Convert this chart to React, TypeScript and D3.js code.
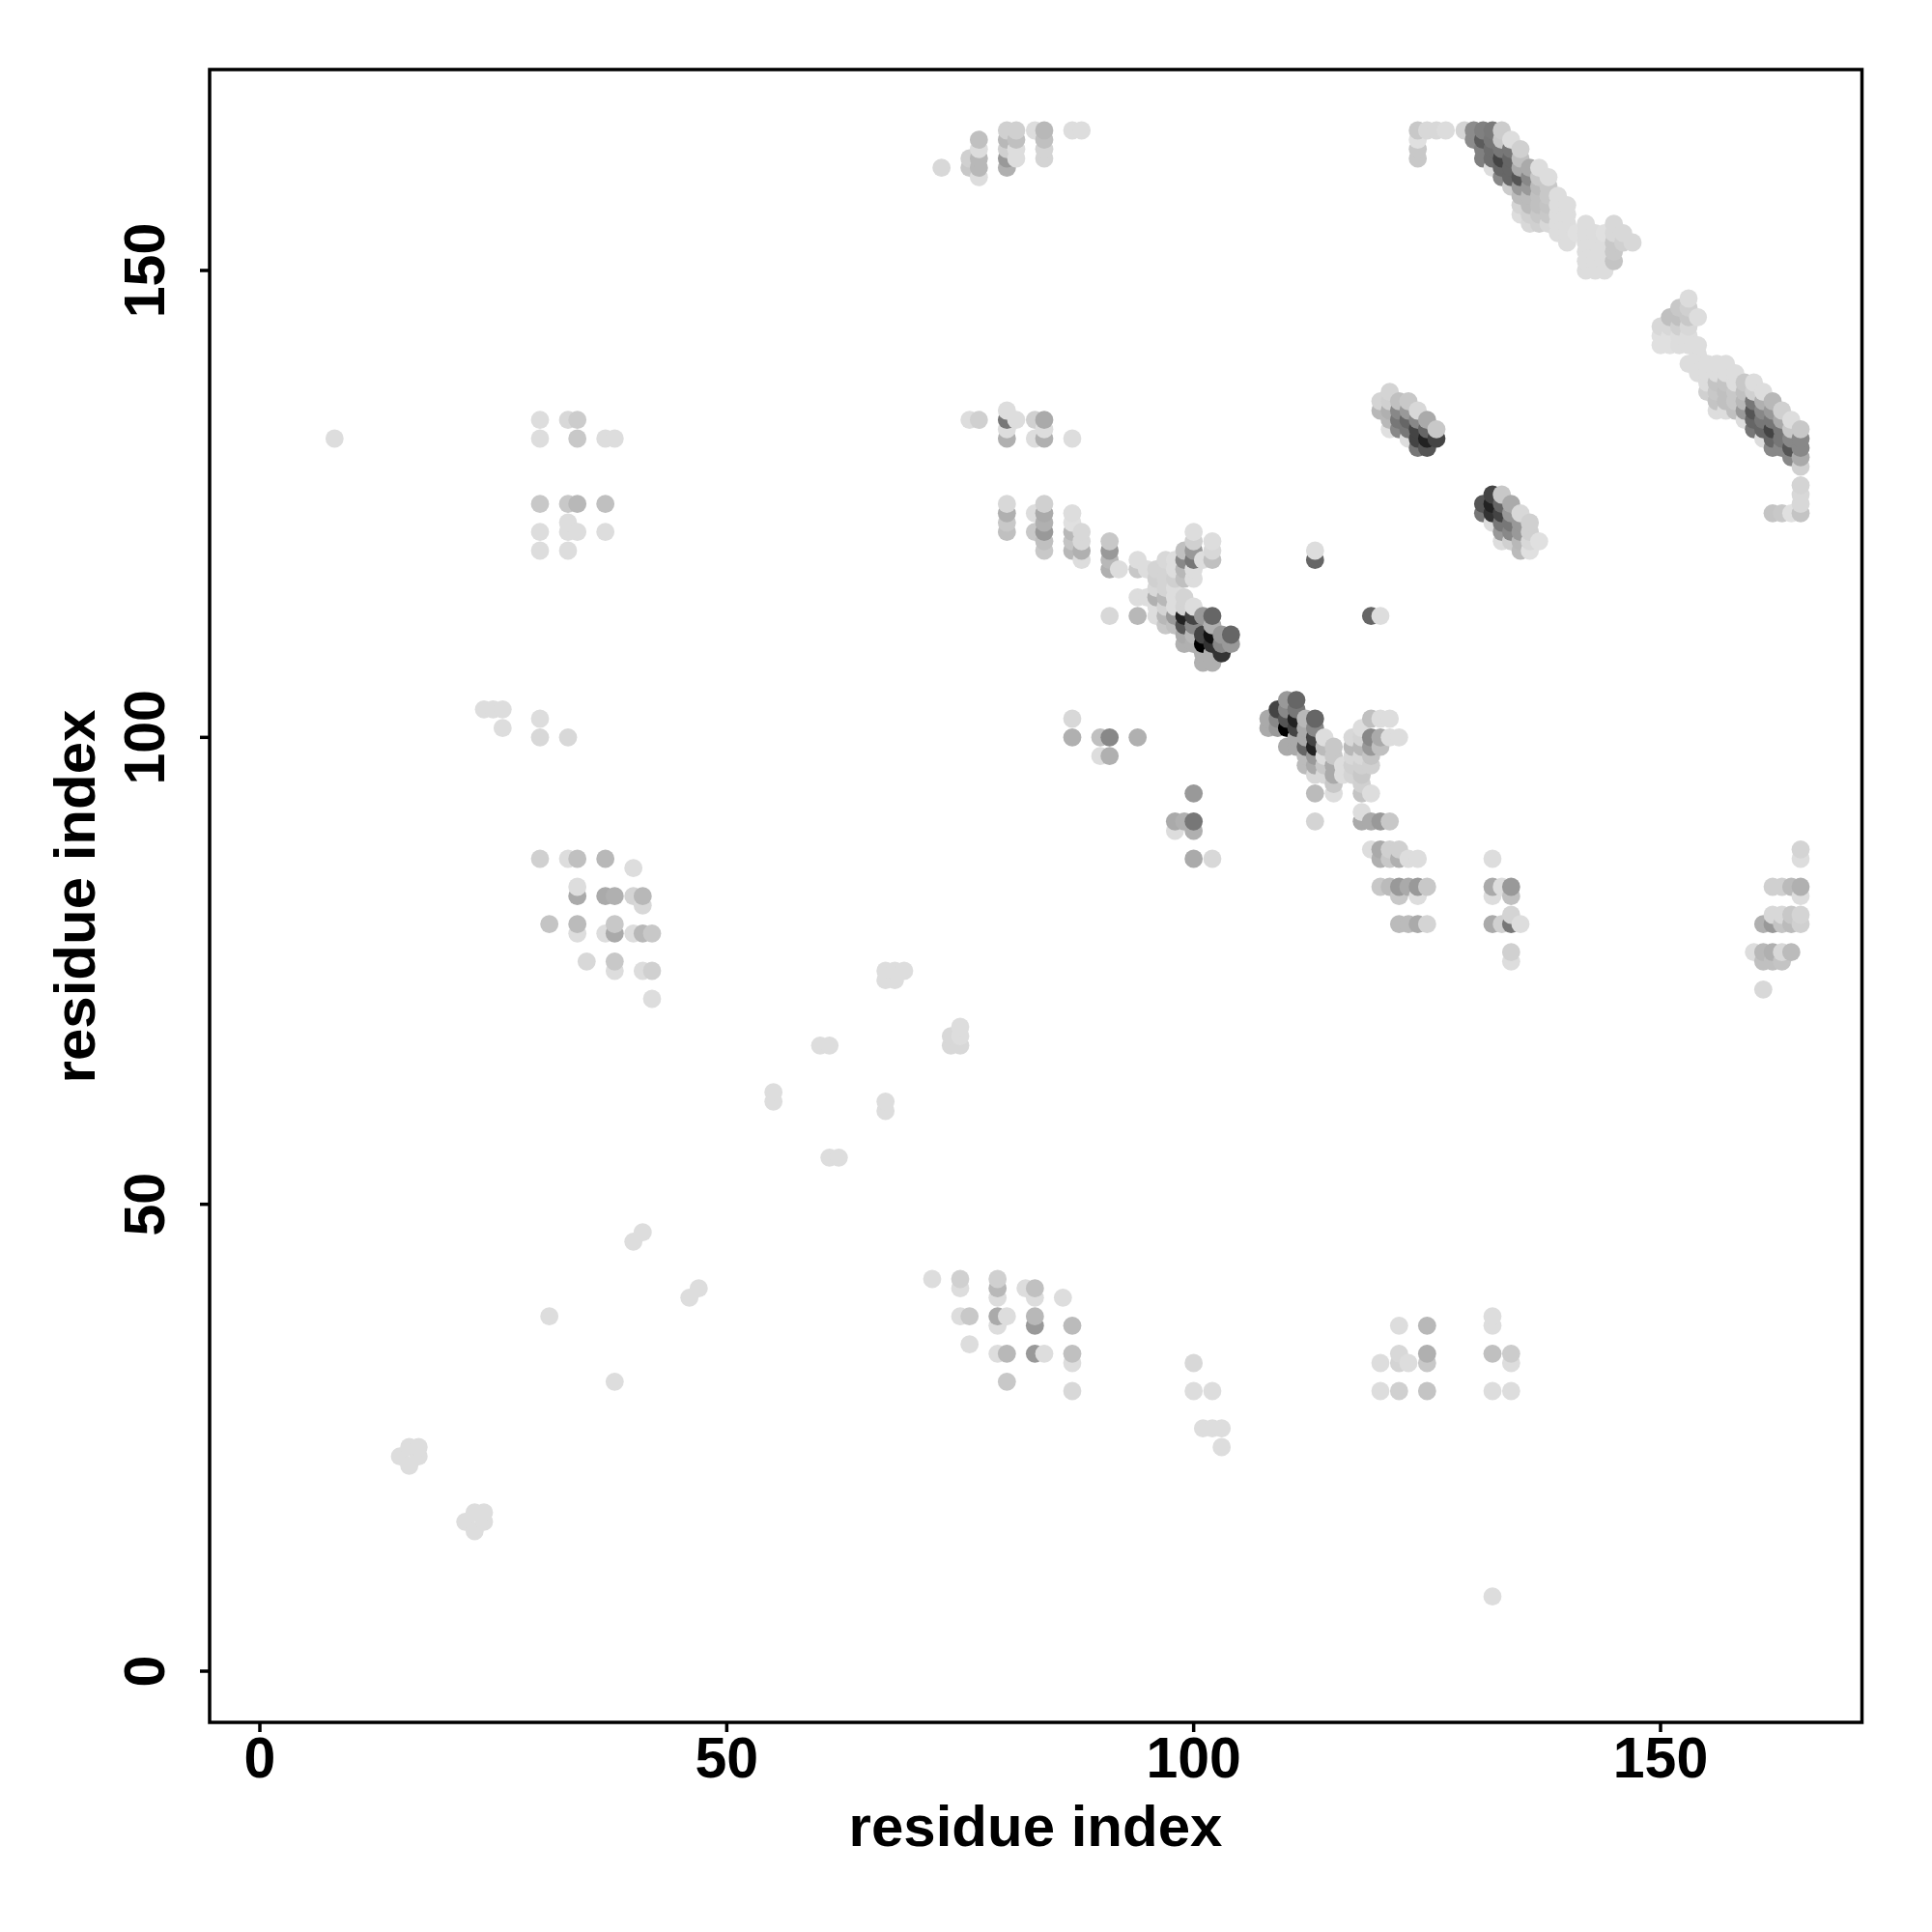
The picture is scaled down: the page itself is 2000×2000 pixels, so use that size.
import React from "react";
import * as d3 from "d3";

type Col = [number, number[]]; // residue x, then pairs: residue y, grey level
const xTicks = [0, 50, 100, 150];
const yTicks = [0, 50, 100, 150];
const axisTitle = "residue index";

const bandTop: Col[] = [
  [124,[165,0xc8,164,0xe0,163,0xc8,162,0xc8]],[125,[165,0xd8]],[126,[165,0xd8]],[127,[165,0xdc]],[129,[165,0xd4]],
  [130,[165,0x8c,164,0x8c]],[131,[165,0x80,164,0x5c,163,0x80,162,0x80]],[132,[165,0x7a,164,0x77,163,0x6e,162,0x6e,161,0xdd]],
  [133,[165,0xcc,164,0xc8,163,0x77,162,0x44,161,0x66,160,0x88]],[134,[164,0xdd,163,0x77,162,0x66,161,0x66,160,0x66,159,0xcc]],
  [135,[163,0xd0,162,0xc0,161,0xaa,160,0x55,159,0x99,158,0xbb,157,0xd4,156,0xdd]],
  [136,[161,0xaa,160,0x88,159,0x99,158,0xbb,157,0xbb,156,0xd0,155,0xd8]],
  [137,[161,0xdd,160,0xc8,159,0xbb,158,0xc0,157,0xc0,156,0xc8,155,0xd0]],
  [138,[160,0xdd,159,0xc8,158,0xc8,157,0xc4,156,0xc8,155,0xd8]],
  [139,[158,0xdd,157,0xdd,156,0xdd,155,0xdd,154,0xdd]],[140,[157,0xdd,156,0xdd,155,0xdd,154,0xdd,153,0xdd]],[141,[154,0xe0]],
  [142,[155,0xdd,154,0xdd,153,0xdd,152,0xdd,151,0xdd,150,0xdd]],[143,[154,0xdd,153,0xdd,152,0xdd,151,0xdd,150,0xdd]],
  [144,[154,0xe0,153,0xdd,152,0xdd,151,0xdd,150,0xdd]],[145,[155,0xd8,154,0xd8,153,0xc8,152,0xc8,151,0xc4]],
  [146,[154,0xd8,153,0xd0]],[147,[153,0xd8]],
];
const bandRight: Col[] = [
  [150,[144,0xd8,143,0xe0,142,0xe0]],[151,[145,0xc0,144,0xd8,143,0xe0,142,0xe0]],[152,[146,0xc8,145,0xc0,144,0xd0,143,0xdd,142,0xdd]],
  [153,[147,0xdc,146,0xd0,145,0xc8,144,0xd8,143,0xdd,142,0xdd,140,0xdd]],[154,[145,0xdd,142,0xdd,141,0xdd,140,0xdd,139,0xdd]],
  [155,[140,0xdd,139,0xdd,138,0xdd,137,0xd0]],[156,[140,0xdd,139,0xdd,138,0xc4,137,0xc8,136,0xc4,135,0xdd]],
  [157,[140,0xdd,139,0xdd,138,0xc4,137,0xc0,136,0xc0,135,0xdd]],[158,[139,0xdd,138,0xdd,137,0xc8,136,0xc8,135,0xc0]],
  [159,[138,0xc8,137,0xc0,136,0xb8,135,0x99,134,0xdd]],[160,[138,0xdd,137,0xd0,136,0x77,135,0x55,134,0x66,133,0x77]],
  [161,[137,0xdd,136,0xb0,135,0x88,134,0x77,133,0x66,132,0xdd]],[162,[136,0xb8,135,0x99,134,0x77,133,0x44,132,0x66,131,0x88,124,0xc4]],
  [163,[135,0xd0,134,0xaa,133,0x77,132,0x77,131,0x88,124,0xc8]],[164,[134,0xdd,133,0xc8,132,0x88,131,0x55,130,0x88,124,0xe0]],
  [165,[133,0xc8,132,0x88,131,0x88,130,0xaa,129,0xd0,127,0xd4,126,0xd8,125,0xd8,124,0xc4]],
];
const clusterUpper: Col[] = [
  [120,[136,0xd4,135,0xb8]],[121,[137,0xd4,136,0xd0,135,0xb0,134,0xb8,133,0xe0]],[122,[136,0xc0,135,0x88,134,0x77,133,0x88]],
  [123,[136,0xc8,135,0x99,134,0x66,133,0x77,132,0xdd]],[124,[135,0xd8,134,0x88,133,0x44,132,0x44,131,0x77]],
  [125,[134,0xaa,133,0x66,132,0x22,131,0x55]],[126,[133,0xc8,132,0x44]],
  [131,[125,0x55,124,0x77]],[132,[126,0x44,125,0x22,124,0x33,123,0xdd]],[133,[126,0xc8,125,0x66,124,0x44,123,0x77,122,0x99,121,0xdd]],
  [134,[125,0xaa,124,0x99,123,0x77,122,0x88,121,0xd0]],[135,[124,0xd8,123,0x99,122,0x99,121,0xb8,120,0xbb]],
  [136,[123,0xd0,122,0xd0,121,0xd8,120,0xe0]],[137,[121,0xe0]],
];
const bandMid: Col[] = [
  [76,[134,0xdd]],[77,[134,0xd0]],[80,[135,0xdd,134,0x77,133,0xdd,132,0xb0,125,0xd8,124,0xb0,123,0xc8,122,0xc0]],[81,[134,0xdd]],
  [83,[134,0xd0,132,0xdd,124,0xdd,122,0xc8]],[84,[134,0xaa,133,0xdd,132,0xb0,125,0xd0,124,0xaa,123,0xb0,122,0x99,121,0xc0,120,0xc8]],
  [87,[132,0xdd,124,0xdd,123,0xe0,122,0xb8,121,0xc4,120,0xb8]],[88,[122,0xd8,121,0xd8,120,0xb0,119,0xdd]],
  [91,[121,0xc8,120,0x99,119,0xb8,118,0xb0,113,0xd8]],[92,[118,0xdd]],[94,[119,0xdd,118,0xc8,115,0xdd,113,0xb8]],[95,[118,0xdd,115,0xdd]],
  [96,[118,0xd4,117,0xd0,116,0xd8,115,0xb0,114,0xdd,113,0xdd]],[97,[119,0xd8,118,0xd4,117,0xd4,116,0xd4,115,0xb8,114,0xd4,113,0xb8,112,0xc8]],
  [98,[119,0xdd,118,0xdd,117,0xd0,116,0xdd,115,0xdd,114,0xdd,113,0x99,112,0xc0]],
  [99,[120,0xc0,119,0x88,118,0xb8,117,0xc0,115,0xd4,114,0xd4,113,0x22,112,0x55,111,0xaa,110,0xb0]],
  [100,[122,0xdd,121,0xd0,120,0x99,119,0x77,118,0xdd,117,0xdd,114,0xdd,113,0x44,112,0x88,111,0xb8,110,0xb0]],
  [101,[119,0xdd,113,0x99,111,0x44,110,0x00,109,0xb0,108,0xb0]],[102,[121,0xdd,120,0xd8,119,0xc0,113,0x66,112,0xb0,111,0x11,110,0x33,109,0xb0,108,0xb0]],
  [103,[111,0x99,110,0x88,109,0x33]],[104,[111,0x66,110,0x99]],
];
const bandLow: Col[] = [
  [108,[102,0xaa,101,0xaa]],[109,[103,0x44,102,0x88,101,0x99]],[110,[104,0x99,103,0x88,102,0x55,101,0x00,99,0xaa]],
  [111,[104,0x66,103,0x77,102,0x22,101,0x44,100,0xaa,99,0xaa]],[112,[102,0xb8,101,0xaa,100,0xaa,99,0x66,98,0xbb,97,0xbb]],
  [113,[120,0xdd,119,0x66,102,0x66,101,0x88,100,0x44,99,0x22,98,0x99,97,0xaa,96,0xd8,94,0xbb,91,0xd4]],
  [114,[100,0xdd,99,0xbb,98,0xdd,97,0xc8,96,0xd8]],[115,[99,0xc8,98,0xc8,97,0xaa,96,0xaa,95,0xc8,94,0xdd]],[116,[97,0xdd,96,0xdd]],
  [117,[100,0xd8,99,0xb8,98,0xd8,97,0xd0,96,0xd4]],[118,[101,0xdd,100,0xd4,99,0xb8,98,0xd8,97,0xd0,96,0xc8,95,0xd0,94,0xc4,92,0xdd,91,0xaa]],
  [119,[113,0x66,102,0xc0,100,0x88,99,0x99,98,0xc4,97,0xd0,94,0xdd,91,0xaa,88,0xdd]],[120,[113,0xdd,102,0xdd,100,0xaa,99,0xc0,91,0x99,88,0xaa,87,0xb0,84,0xc8]],
  [121,[102,0xdd,100,0xdd,91,0xc8,88,0xd0,87,0xc8,84,0xbb]],[122,[100,0xdd,88,0xd0,87,0xb0,84,0x99,83,0xc8,80,0xbb]],
  [123,[87,0xdd,84,0xaa,80,0xbb]],[124,[87,0xdd,84,0x99,83,0xdd,80,0xaa]],[125,[84,0xc8,80,0xd4]],
  [132,[87,0xdd,84,0xaa,83,0xdd,80,0xaa]],[133,[84,0xdd,80,0xd0]],[134,[84,0x99,83,0xc0,81,0xd4,80,0x77,77,0xd0,76,0xdd]],[135,[80,0xdd]],
  [160,[77,0xdd]],[161,[80,0xb0,77,0xb8,76,0xc0,73,0xd8]],[162,[84,0xd0,81,0xd8,80,0x99,77,0xb0,76,0xc0]],[163,[84,0xd0,81,0xd8,80,0xc4,77,0xd8,76,0xc4]],
  [164,[84,0xbb,81,0xc8,80,0xbb,77,0xbb]],[165,[88,0xd4,87,0xdd,84,0xb0,83,0xdd,81,0xd4,80,0xd0]],
];
const clusterMidRight: Col[] = [
  [87,[102,0xd8,100,0xb0]],[90,[100,0xc0,98,0xdd]],[91,[100,0x88,98,0xb0]],[94,[100,0xb0]],
  [98,[91,0xaa,90,0xdd]],[99,[91,0xb0]],[100,[94,0x99,91,0x77,90,0xb0,87,0xaa]],[102,[87,0xd8]],
];
const topMid: Col[] = [
  [73,[161,0xd8]],[76,[162,0xd0,161,0xc8]],[77,[164,0xc0,163,0xdd,162,0xb8,161,0xb8,160,0xdd]],
  [80,[165,0xd0,164,0xb8,163,0xd0,162,0x99,161,0xb0]],[81,[165,0xd0,164,0xc0,163,0xdd,162,0xdd]],
  [83,[165,0xdd]],[84,[165,0xb8,164,0xc0,163,0xd4,162,0xd4]],[87,[165,0xdd]],[88,[165,0xdd]],
];
const leftUpper: Col[] = [
  [8,[132,0xdd]],[24,[103,0xdd]],[25,[103,0xdd]],[26,[103,0xdd,101,0xdd]],
  [30,[134,0xdd,132,0xdd,125,0xc8,122,0xdd,120,0xdd,102,0xdd,100,0xd8]],
  [33,[134,0xd8,125,0xc8,123,0xdd,122,0xdd,120,0xdd,100,0xd8]],[34,[134,0xcc,132,0xc8,125,0xb8,122,0xdd]],
  [37,[132,0xdd,125,0xc0,122,0xdd]],[38,[132,0xdd]],
];
const leftMiddle: Col[] = [
  [30,[87,0xd0]],[31,[80,0xc4,38,0xdd]],[33,[87,0xdd]],[34,[87,0xc0,84,0xdd,83,0xaa,80,0xbb,79,0xdd]],[35,[76,0xd8]],
  [37,[87,0xb8,83,0xaa,79,0xdd]],[38,[83,0xb0,80,0xc8,79,0xaa,76,0xc8,75,0xdd,31,0xdd]],[40,[86,0xdd,83,0xd4,79,0xdd,46,0xdd]],
  [41,[83,0xb8,82,0xd8,79,0xb8,75,0xdd,47,0xdd]],[42,[79,0xc8,75,0xd0,72,0xdd]],
];
const diagonal: Col[] = [
  [15,[23,0xdd]],[16,[24,0xdd,22,0xdd]],[17,[24,0xdd,23,0xdd]],[22,[16,0xdd]],[23,[17,0xdd,15,0xdd]],[24,[17,0xdd,16,0xdd]],
  [46,[40,0xdd]],[47,[41,0xdd]],[55,[62,0xdd,61,0xdd]],[60,[67,0xdd]],[61,[67,0xdd,55,0xdd]],[62,[55,0xdd]],
  [67,[75,0xdd,74,0xdd,61,0xdd,60,0xdd]],[68,[75,0xdd,74,0xdd]],[69,[75,0xdd]],[74,[68,0xd8,67,0xd8]],[75,[69,0xdd,68,0xdd,67,0xd8]],
];
const lower: Col[] = [
  [72,[42,0xdd]],[75,[42,0xd0,41,0xdd,38,0xdd]],[76,[38,0xc8,35,0xdd]],[79,[42,0xd0,41,0xb8,40,0xdd,38,0xaa,37,0xdd,34,0xdd]],
  [80,[38,0xdd,34,0xb8,31,0xc8]],[82,[41,0xdd]],[83,[41,0xc0,40,0xdd,38,0xb8,37,0x99,34,0x99]],[84,[34,0xdd]],[86,[40,0xdd]],
  [87,[37,0xbb,34,0xc0,33,0xdd,30,0xd8]],[100,[33,0xd8,30,0xdd]],[101,[26,0xdd]],[102,[30,0xdd,26,0xdd]],[103,[26,0xdd,24,0xdd]],
  [120,[33,0xdd,30,0xdd]],[122,[37,0xdd,34,0xd8,33,0xd4,30,0xd0]],[123,[33,0xdd]],[125,[37,0xb8,34,0xb0,33,0xc8,30,0xc4]],
  [132,[38,0xdd,37,0xdd,34,0xc0,30,0xdd,8,0xdd]],[134,[34,0xcc,33,0xdd,30,0xdd]],
];

const allColumns = [bandTop, bandRight, clusterUpper, bandMid, bandLow, clusterMidRight, topMid, leftUpper, leftMiddle, diagonal, lower];
const points = allColumns
  .flat()
  .flatMap(([x, pairs]) => d3.range(0, pairs.length, 2).map((i) => ({ x, y: pairs[i], g: pairs[i + 1] })))
  .sort((a, b) => d3.ascending(a.x, b.x) || d3.ascending(a.y, b.y));

const sx = d3.scaleLinear().domain([0, 150]).range([269, 1719]);
const sy = d3.scaleLinear().domain([0, 150]).range([1730, 280]);
const FRAME = { l: 217, r: 1927.5, t: 72, b: 1783 };
const FONT = '"Liberation Sans", Arial, sans-serif';

export default function App() {
  return (
    <svg width={2000} height={2000} style={{ position: "absolute", left: 0, top: 0, background: "#fff" }}>
      {points.map((p, i) => (
        <circle key={i} cx={sx(p.x)} cy={sy(p.y)} r={9.4} fill={d3.rgb(p.g, p.g, p.g).formatHex()} />
      ))}
      <rect x={FRAME.l} y={FRAME.t} width={FRAME.r - FRAME.l} height={FRAME.b - FRAME.t} fill="none" stroke="#000" strokeWidth={3.5} />
      {xTicks.map((t) => (
        <g key={t}>
          <line x1={sx(t)} x2={sx(t)} y1={FRAME.b} y2={FRAME.b + 10} stroke="#000" strokeWidth={3.5} />
          <text x={sx(t)} y={1840} textAnchor="middle" fontFamily={FONT} fontWeight="bold" fontSize={59}>{t}</text>
        </g>
      ))}
      {yTicks.map((t) => (
        <g key={t}>
          <line x1={FRAME.l} x2={FRAME.l - 10} y1={sy(t)} y2={sy(t)} stroke="#000" strokeWidth={3.5} />
          <text transform={`translate(170,${sy(t)}) rotate(-90)`} textAnchor="middle" fontFamily={FONT} fontWeight="bold" fontSize={59}>{t}</text>
        </g>
      ))}
      <text x={1072} y={1911} textAnchor="middle" fontFamily={FONT} fontWeight="bold" fontSize={60}>{axisTitle}</text>
      <text transform={`translate(98,928) rotate(-90)`} textAnchor="middle" fontFamily={FONT} fontWeight="bold" fontSize={60}>{axisTitle}</text>
    </svg>
  );
}
